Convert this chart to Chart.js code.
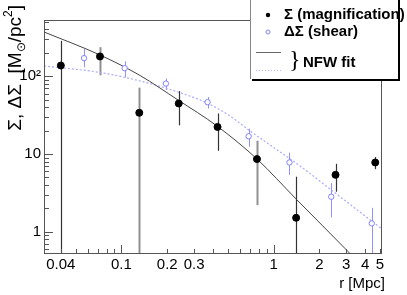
<!DOCTYPE html>
<html>
<head>
<meta charset="utf-8">
<script src="https://cdn.jsdelivr.net/npm/chart.js@4.4.0/dist/chart.umd.min.js"></script>
<style>
html, body { margin: 0; padding: 0; background: #fff; }
</style>
</head>
<body>
<canvas id="c" width="407" height="295"></canvas>
<script>
// Sigma (magnification) points, black
const sigmaR = [0.040, 0.0723, 0.131, 0.238, 0.428, 0.777, 1.405, 2.55, 4.65];
const sigmaVal = [137.6, 180, 33.9, 44.7, 22.3, 8.6, 1.51, 5.39, 7.78];
const sigmaHi = [286, 237, 71.4, 64.5, 33.2, 14.8, 5.1, 7.48, 9.14];
const sigmaLo = [0.3, 103, 0.3, 23.4, 11.0, 2.2, 0.3, 3.27, 6.38];

// Delta Sigma (shear) points, blue
const shearR = [0.0568, 0.105, 0.196, 0.368, 0.685, 1.27, 2.39, 4.41];
const shearVal = [171, 127, 80.5, 46.5, 16.9, 7.78, 2.82, 1.28];
const shearHi = [224, 156, 93.4, 54, 21.2, 10.4, 4.21, 2.03];
const shearLo = [131, 97, 66.5, 38.5, 12.4, 5.39, 1.53, 0.3];

// NFW fit curves
const fitSigmaR = [0.031, 0.0723, 0.1325, 0.2354, 0.4247, 0.7775, 1.403, 3.08, 3.70];
const fitSigmaVal = [371.6, 188, 102.4, 49.5, 22.9, 8.62, 2.64, 0.556, 0.384];
const fitShearR = [0.031, 0.0723, 0.1325, 0.2087, 0.365, 0.517, 0.700, 0.947, 1.49, 2.347, 5.155];
const fitShearVal = [135.7, 111.9, 87.0, 67.6, 45.3, 30.8, 19.8, 13.05, 7.01, 3.54, 1.083];

// axes
const xTickVals = [0.04, 0.1, 0.2, 0.3, 1, 2, 3, 4, 5];
const xTickLabels = ["0.04", "0.1", "0.2", "0.3", "1", "2", "3", "4", "5"];
const yTickVals = [1, 10, 100];
const yTickLabels = ["1", "10", "10\u00b2"];
const xMajor = [0.1, 1];
const xMinor = [0.04, 0.05, 0.06, 0.07, 0.08, 0.09, 0.2, 0.3, 0.4, 0.5, 0.6, 0.7, 0.8, 0.9, 2, 3, 4, 5];
const yMajor = [1, 10, 100];
const yMinor = [0.6, 0.7, 0.8, 0.9, 2, 3, 4, 5, 6, 7, 8, 9, 20, 30, 40, 50, 60, 70, 80, 90, 200, 300, 400, 500];

const greyBars = [1, 2, 5];   // sigma points drawn with the grey, thicker bar

const FONT = "'Liberation Sans', Arial, sans-serif";
const toPts = (xs, ys) => xs.map((x, i) => ({ x: x, y: ys[i] }));

const rootFrame = {
    id: "rootFrame",
    beforeDatasetsDraw(chart) {
        const { ctx, chartArea: a, scales } = chart;
        const xs = scales.x, ys = scales.y;
        ctx.save();
        ctx.beginPath();
        ctx.rect(a.left, a.top, a.right - a.left, a.bottom - a.top);
        ctx.clip();
        // error bars
        shearR.forEach((r, i) => {
            const px = Math.round(xs.getPixelForValue(r)) + 0.5;
            ctx.strokeStyle = "#9090ff";
            ctx.lineWidth = 1;
            ctx.beginPath();
            ctx.moveTo(px, ys.getPixelForValue(shearHi[i]));
            ctx.lineTo(px, ys.getPixelForValue(shearLo[i]));
            ctx.stroke();
        });
        sigmaR.forEach((r, i) => {
            const grey = greyBars.includes(i);
            const px = Math.round(xs.getPixelForValue(r)) + 0.5;
            ctx.strokeStyle = grey ? "#909090" : "#333";
            ctx.lineWidth = grey ? 2 : 1.2;
            ctx.beginPath();
            ctx.moveTo(px, ys.getPixelForValue(sigmaHi[i]));
            ctx.lineTo(px, ys.getPixelForValue(sigmaLo[i]));
            ctx.stroke();
        });
        ctx.restore();
    },
    afterDraw(chart) {
        const { ctx, chartArea: a, scales } = chart;
        const xs = scales.x, ys = scales.y;
        ctx.save();
        ctx.strokeStyle = "#555";
        ctx.lineWidth = 1;
        ctx.strokeRect(a.left + 0.5, a.top + 0.5, a.right - a.left - 1, a.bottom - a.top);

        ctx.beginPath();
        xMajor.forEach(v => {
            const p = Math.round(xs.getPixelForValue(v)) + 0.5;
            ctx.moveTo(p, a.bottom); ctx.lineTo(p, a.bottom - 8);
        });
        xMinor.forEach(v => {
            const p = Math.round(xs.getPixelForValue(v)) + 0.5;
            ctx.moveTo(p, a.bottom); ctx.lineTo(p, a.bottom - 4);
        });
        yMajor.forEach(v => {
            const p = Math.round(ys.getPixelForValue(v)) + 0.5;
            ctx.moveTo(a.left, p); ctx.lineTo(a.left + 9, p);
        });
        yMinor.forEach(v => {
            const p = Math.round(ys.getPixelForValue(v)) + 0.5;
            ctx.moveTo(a.left, p); ctx.lineTo(a.left + 5, p);
        });
        ctx.stroke();

        // axis titles
        ctx.fillStyle = "#000";
        ctx.font = "15px " + FONT;
        ctx.textAlign = "right";
        ctx.textBaseline = "alphabetic";
        ctx.fillText("r [Mpc]", 385, 288);

        ctx.translate(21, 5);
        ctx.rotate(-Math.PI / 2);
        const parts = [
            ["Σ, ΔΣ  [M", "19px", 0],
            ["⊙", "12px", 4],
            ["/pc", "19px", 0],
            ["2", "12px", -9],
            ["]", "19px", 0],
        ];
        let w = 0;
        parts.forEach(p => {
            ctx.font = p[1] + " " + FONT;
            w += ctx.measureText(p[0]).width;
        });
        let cx = -w;
        ctx.textAlign = "left";
        parts.forEach(p => {
            ctx.font = p[1] + " " + FONT;
            ctx.fillText(p[0], cx, p[2]);
            cx += ctx.measureText(p[0]).width;
        });
        ctx.restore();

        // legend box, ROOT style with shadow
        ctx.save();
        ctx.fillStyle = "#000";
        ctx.fillRect(252, 0, 148, 81);
        ctx.fillStyle = "#fff";
        ctx.fillRect(250, -1, 148, 80);
        ctx.strokeStyle = "#888";
        ctx.lineWidth = 1;
        ctx.beginPath();
        ctx.moveTo(250.5, 0); ctx.lineTo(250.5, 79);
        ctx.stroke();

        ctx.fillStyle = "#000";
        ctx.beginPath(); ctx.arc(268, 15, 2.2, 0, Math.PI * 2); ctx.fill();
        ctx.strokeStyle = "#8080ff";
        ctx.lineWidth = 1;
        ctx.beginPath(); ctx.arc(268, 32, 2, 0, Math.PI * 2); ctx.stroke();

        ctx.strokeStyle = "#666";
        ctx.beginPath(); ctx.moveTo(256, 52.5); ctx.lineTo(281, 52.5); ctx.stroke();
        ctx.strokeStyle = "#b0b0ff";
        ctx.setLineDash([1, 2]);
        ctx.beginPath(); ctx.moveTo(256, 70.5); ctx.lineTo(281, 70.5); ctx.stroke();
        ctx.setLineDash([]);

        ctx.fillStyle = "#000";
        ctx.textAlign = "left";
        ctx.textBaseline = "middle";
        ctx.font = "bold 15px " + FONT;
        ctx.fillText("Σ (magnification)", 284, 15);
        ctx.fillText("ΔΣ (shear)", 284, 32);
        ctx.fillText("NFW fit", 303, 63);
        ctx.font = "24px 'Liberation Serif', serif";
        ctx.fillText("}", 289, 61);
        ctx.restore();
    }
};

new Chart(document.getElementById("c"), {
    type: "scatter",
    data: {
        datasets: [
            {
                label: "Σ (magnification)",
                data: toPts(sigmaR, sigmaVal),
                pointRadius: 3.5,
                pointBackgroundColor: "#000",
                pointBorderColor: "#000",
                showLine: false,
            },
            {
                label: "ΔΣ (shear)",
                data: toPts(shearR, shearVal),
                pointRadius: 2.7,
                pointBackgroundColor: "#fff",
                pointBorderColor: "#8080ff",
                pointBorderWidth: 1,
                showLine: false,
            },
            {
                label: "NFW fit Σ",
                data: toPts(fitSigmaR, fitSigmaVal),
                showLine: true,
                pointRadius: 0,
                borderColor: "#444",
                borderWidth: 1,
                cubicInterpolationMode: "monotone",
                clip: 0,
            },
            {
                label: "NFW fit ΔΣ",
                data: toPts(fitShearR, fitShearVal),
                showLine: true,
                pointRadius: 0,
                borderColor: "#aaaaff",
                borderWidth: 1.2,
                borderDash: [2, 2],
                cubicInterpolationMode: "monotone",
                clip: 0,
            },
        ],
    },
    plugins: [rootFrame],
    options: {
        responsive: false,
        animation: false,
        devicePixelRatio: 1,
        layout: { padding: { left: 0, right: 25, top: 20, bottom: 0 } },
        plugins: { legend: { display: false }, tooltip: { enabled: false } },
        scales: {
            x: {
                type: "logarithmic",
                min: 0.031,
                max: 5.15,
                grid: { display: false, drawTicks: false },
                border: { display: false },
                afterBuildTicks: s => { s.ticks = xTickVals.map(v => ({ value: v })); },
                afterFit: s => { s.height = 42; },
                ticks: {
                    autoSkip: false,
                    maxRotation: 0,
                    padding: 3,
                    color: "#000",
                    font: { family: FONT, size: 15 },
                    callback: v => xTickLabels[xTickVals.indexOf(v)],
                },
            },
            y: {
                type: "logarithmic",
                min: 0.532,
                max: 530,
                grid: { display: false, drawTicks: false },
                border: { display: false },
                afterBuildTicks: s => { s.ticks = yTickVals.map(v => ({ value: v })); },
                afterFit: s => { s.width = 44; },
                ticks: {
                    autoSkip: false,
                    padding: 3,
                    color: "#000",
                    font: { family: FONT, size: 15 },
                    callback: v => yTickLabels[yTickVals.indexOf(v)],
                },
            },
        },
    },
});
</script>
</body>
</html>
